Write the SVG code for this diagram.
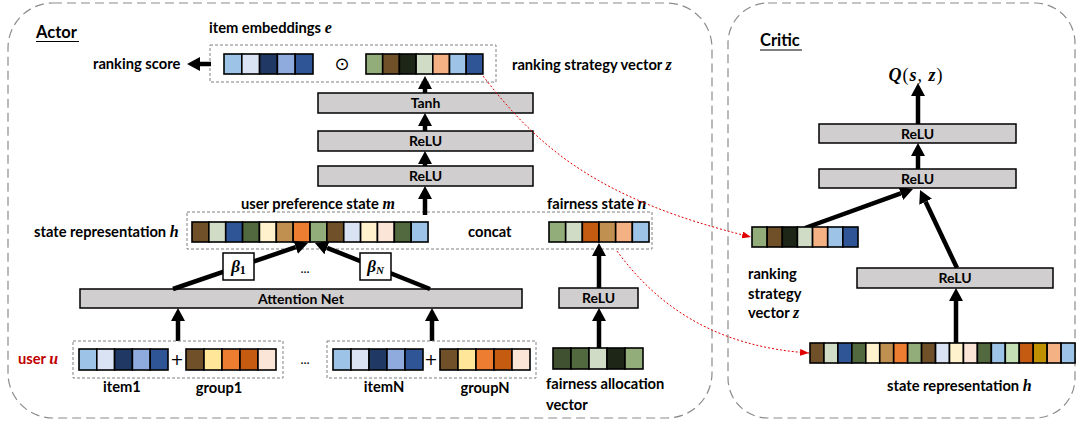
<svg xmlns="http://www.w3.org/2000/svg" width="1079" height="425" viewBox="0 0 1079 425">
<defs>
<style>
.t{font-family:Lato,"Open Sans","Liberation Sans",sans-serif;font-weight:700;font-size:14.7px;fill:#000}
.m{font-family:"Liberation Serif","DejaVu Serif",serif;font-style:italic;font-weight:700;font-size:16px}
.up{font-family:"Liberation Serif","DejaVu Serif",serif;font-style:normal;font-weight:400}
.c{text-anchor:middle}
.cell{stroke:#000;stroke-width:1.6}
.grp{fill:none;stroke:#808080;stroke-width:1;stroke-dasharray:3,2}
.layer{fill:#D0CECE;stroke:#000;stroke-width:1.5}
.lt{font-size:14px;text-anchor:middle}
.arr{stroke:#000;stroke-width:4.5;fill:none;marker-end:url(#ah)}
.red{stroke:#E00000;stroke-width:1;stroke-dasharray:2,2;fill:none;marker-end:url(#rh)}
.box{fill:none;stroke:#8C8C8C;stroke-width:1.2;stroke-dasharray:9,5}
.beta{fill:#fff;stroke:#000;stroke-width:1.5}
.plus{font-family:"DejaVu Sans",sans-serif;font-size:16px;text-anchor:middle}
.dots{font-family:Lato,sans-serif;font-size:13px;text-anchor:middle}
</style>
<marker id="ah" markerUnits="userSpaceOnUse" markerWidth="13" markerHeight="14" viewBox="0 0 13 14" refX="0" refY="7" orient="auto"><path d="M0,0 L13,7 L0,14 z" fill="#000"/></marker>
<marker id="rh" markerUnits="userSpaceOnUse" markerWidth="9" markerHeight="7" viewBox="0 0 9 7" refX="9" refY="3.5" orient="auto"><path d="M0,0 L9,3.5 L0,7 z" fill="#E00000"/></marker>
</defs>

<g id="actor-frame">
<rect class="box" x="8" y="3" width="704" height="415" rx="45" ry="45"/>
<text class="t" x="36" y="38" style="font-size:16.5px">Actor</text>
<line x1="36" y1="41.5" x2="79" y2="41.5" stroke="#000" stroke-width="1"/>
</g>
<g id="critic-frame">
<rect class="box" x="728" y="3" width="347" height="415" rx="40" ry="40"/>
<text class="t" x="760" y="46" style="font-size:16.5px">Critic</text>
<line x1="760" y1="50" x2="802" y2="50" stroke="#000" stroke-width="1"/>
</g>

<g id="embeddings">
<rect class="grp" x="210" y="45" width="286" height="37"/>
<text class="t" x="209" y="33">item embeddings <tspan class="m">e</tspan></text>
<g class="cell">
<rect x="224" y="54" width="17.8" height="20" fill="#9DC3E6"/>
<rect x="241.8" y="54" width="17.8" height="20" fill="#DAE3F3"/>
<rect x="259.6" y="54" width="17.8" height="20" fill="#1F3864"/>
<rect x="277.4" y="54" width="17.8" height="20" fill="#8FAADC"/>
<rect x="295.2" y="54" width="17.8" height="20" fill="#2F5597"/>
</g>
<text x="342" y="70" style="font-family:'DejaVu Sans',sans-serif;font-size:18px" text-anchor="middle">⊙</text>
<g class="cell">
<rect x="366" y="54" width="16.7" height="20" fill="#93AD7A"/>
<rect x="382.7" y="54" width="16.7" height="20" fill="#6F5028"/>
<rect x="399.4" y="54" width="16.7" height="20" fill="#1E2618"/>
<rect x="416.1" y="54" width="16.7" height="20" fill="#D1DCC7"/>
<rect x="432.8" y="54" width="16.7" height="20" fill="#F4B183"/>
<rect x="449.5" y="54" width="16.7" height="20" fill="#9DC3E6"/>
<rect x="466.2" y="54" width="16.7" height="20" fill="#2F5597"/>
</g>
<text class="t" x="93" y="69">ranking score</text>
<text class="t" x="512" y="70">ranking strategy vector <tspan class="m">z</tspan></text>
</g>

<g id="tanh"><rect class="layer" x="318" y="93" width="215" height="20"/><text class="t lt" x="425.5" y="108">Tanh</text></g>
<g id="relu-a1"><rect class="layer" x="318" y="131" width="215" height="20"/><text class="t lt" x="425.5" y="146">ReLU</text></g>
<g id="relu-a2"><rect class="layer" x="318" y="166" width="215" height="20"/><text class="t lt" x="425.5" y="181">ReLU</text></g>

<g id="state">
<rect class="grp" x="187" y="212" width="465" height="37"/>
<text class="t" x="241" y="209">user preference state <tspan class="m">m</tspan></text>
<text class="t" x="34" y="237">state representation <tspan class="m">h</tspan></text>
<text class="t" x="468" y="237">concat</text>
<text class="t" x="547" y="209">fairness state <tspan class="m">n</tspan></text>
<g class="cell">
<rect x="192" y="222" width="16.86" height="20" fill="#6F5028"/>
<rect x="208.86" y="222" width="16.86" height="20" fill="#D1DCC7"/>
<rect x="225.72" y="222" width="16.86" height="20" fill="#2F5597"/>
<rect x="242.58" y="222" width="16.86" height="20" fill="#52693F"/>
<rect x="259.44" y="222" width="16.86" height="20" fill="#FFF2CC"/>
<rect x="276.3" y="222" width="16.86" height="20" fill="#C09050"/>
<rect x="293.16" y="222" width="16.86" height="20" fill="#ED7D31"/>
<rect x="310.02" y="222" width="16.86" height="20" fill="#93AD7A"/>
<rect x="326.88" y="222" width="16.86" height="20" fill="#6F5028"/>
<rect x="343.74" y="222" width="16.86" height="20" fill="#DAE3F3"/>
<rect x="360.6" y="222" width="16.86" height="20" fill="#FFF2CC"/>
<rect x="377.46" y="222" width="16.86" height="20" fill="#FBE5D6"/>
<rect x="394.32" y="222" width="16.86" height="20" fill="#52693F"/>
<rect x="411.18" y="222" width="16.86" height="20" fill="#9DC3E6"/>
</g>
<g class="cell">
<rect x="549" y="222" width="16.67" height="20" fill="#93AD7A"/>
<rect x="565.67" y="222" width="16.67" height="20" fill="#D1DCC7"/>
<rect x="582.33" y="222" width="16.67" height="20" fill="#C55A11"/>
<rect x="599" y="222" width="16.67" height="20" fill="#C09050"/>
<rect x="615.67" y="222" width="16.67" height="20" fill="#F4B183"/>
<rect x="632.33" y="222" width="16.67" height="20" fill="#9DC3E6"/>
</g>
</g>

<g id="attention"><rect class="layer" x="80" y="289" width="442" height="19"/><text class="t lt" x="301" y="303.5">Attention Net</text></g>
<g id="relu-fair"><rect class="layer" x="559" y="288" width="79" height="20"/><text class="t lt" x="598.5" y="303">ReLU</text></g>

<g id="connectors">
<line class="arr" x1="211" y1="64" x2="200" y2="64"/>
<line class="arr" x1="425" y1="93" x2="425" y2="89"/>
<line class="arr" x1="425" y1="131" x2="425" y2="126"/>
<line class="arr" x1="425" y1="166" x2="425" y2="164"/>
<line class="arr" x1="425" y1="215" x2="425" y2="199"/>
<line class="arr" x1="173" y1="289" x2="295.7" y2="247.2"/>
<line class="arr" x1="430" y1="289" x2="327" y2="247.8"/>
<line class="arr" x1="178" y1="341" x2="178" y2="321"/>
<line class="arr" x1="432" y1="341" x2="432" y2="321"/>
<line class="arr" x1="599" y1="348" x2="599" y2="321"/>
<line class="arr" x1="599" y1="288" x2="599" y2="256"/>
<line class="arr" x1="918" y1="124" x2="918" y2="96"/>
<line class="arr" x1="918" y1="169" x2="918" y2="156"/>
<line class="arr" x1="805" y1="228" x2="900.8" y2="193.4"/>
<line class="arr" x1="957" y1="268" x2="925.6" y2="201.8"/>
<line class="arr" x1="956" y1="343" x2="956" y2="301"/>
<path class="red" d="M483,76 C540,150 600,200 751,237"/>
<path class="red" d="M617,251 C660,310 720,347 809,353"/>
</g>

<g id="beta1"><rect class="beta" x="223" y="253" width="31" height="27"/><text class="m c" x="238.5" y="272" style="font-size:17px">β<tspan style="font-style:normal;font-size:12px" dy="2">1</tspan></text></g>
<g id="betaN"><rect class="beta" x="360" y="253" width="31" height="27"/><text class="m c" x="375.5" y="272" style="font-size:17px">β<tspan style="font-size:11px" dy="2">N</tspan></text></g>
<text class="dots" x="305" y="273">...</text>

<g id="input1">
<rect class="grp" x="73" y="341" width="210" height="37"/>
<g class="cell">
<rect x="79" y="349" width="17.8" height="21" fill="#9DC3E6"/>
<rect x="96.8" y="349" width="17.8" height="21" fill="#DAE3F3"/>
<rect x="114.6" y="349" width="17.8" height="21" fill="#1F3864"/>
<rect x="132.4" y="349" width="17.8" height="21" fill="#8FAADC"/>
<rect x="150.2" y="349" width="17.8" height="21" fill="#2F5597"/>
<rect x="186" y="349" width="18" height="21" fill="#6F5028"/>
<rect x="204" y="349" width="18" height="21" fill="#FFE699"/>
<rect x="222" y="349" width="18" height="21" fill="#ED7D31"/>
<rect x="240" y="349" width="18" height="21" fill="#C55A11"/>
<rect x="258" y="349" width="18" height="21" fill="#FBE5D6"/>
</g>
<text class="plus" x="177" y="365">+</text>
<text class="t c" x="122" y="392">item1</text>
<text class="t c" x="219" y="393">group1</text>
</g>
<g id="user"><text class="t" x="18" y="364" style="fill:#C00000">user <tspan class="m" style="fill:#C00000">u</tspan></text></g>
<text class="dots" x="305" y="364">...</text>

<g id="inputN">
<rect class="grp" x="327" y="341" width="209" height="37"/>
<g class="cell">
<rect x="333" y="349" width="18" height="21" fill="#9DC3E6"/>
<rect x="351" y="349" width="18" height="21" fill="#DAE3F3"/>
<rect x="369" y="349" width="18" height="21" fill="#1F3864"/>
<rect x="387" y="349" width="18" height="21" fill="#8FAADC"/>
<rect x="405" y="349" width="18" height="21" fill="#2F5597"/>
<rect x="440" y="349" width="18" height="21" fill="#6F5028"/>
<rect x="458" y="349" width="18" height="21" fill="#FFE699"/>
<rect x="476" y="349" width="18" height="21" fill="#ED7D31"/>
<rect x="494" y="349" width="18" height="21" fill="#C55A11"/>
<rect x="512" y="349" width="18" height="21" fill="#FBE5D6"/>
</g>
<text class="plus" x="431" y="365">+</text>
<text class="t c" x="384" y="392">itemN</text>
<text class="t c" x="485" y="393">groupN</text>
</g>

<g id="fair-alloc">
<g class="cell">
<rect x="553" y="348" width="18" height="21" fill="#3F5131"/>
<rect x="571" y="348" width="18" height="21" fill="#52693F"/>
<rect x="589" y="348" width="18" height="21" fill="#D1DCC7"/>
<rect x="607" y="348" width="18" height="21" fill="#1E2618"/>
<rect x="625" y="348" width="18" height="21" fill="#93AD7A"/>
</g>
<text class="t" x="546" y="389">fairness allocation</text>
<text class="t" x="546" y="410">vector</text>
</g>

<g id="q"><text class="m c" x="916" y="81" style="font-size:18px;letter-spacing:1px">Q<tspan class="up">(</tspan>s<tspan class="up">, </tspan>z<tspan class="up">)</tspan></text></g>
<g id="relu-c1"><rect class="layer" x="819" y="124" width="197" height="19"/><text class="t lt" x="917.5" y="138.5">ReLU</text></g>
<g id="relu-c2"><rect class="layer" x="819" y="169" width="197" height="19"/><text class="t lt" x="917.5" y="183.5">ReLU</text></g>
<g id="relu-c3"><rect class="layer" x="857" y="268" width="196" height="20"/><text class="t lt" x="955" y="283">ReLU</text></g>

<g id="critic-z">
<g class="cell">
<rect x="752" y="227" width="15.14" height="20" fill="#93AD7A"/>
<rect x="767.14" y="227" width="15.14" height="20" fill="#6F5028"/>
<rect x="782.29" y="227" width="15.14" height="20" fill="#1E2618"/>
<rect x="797.43" y="227" width="15.14" height="20" fill="#D1DCC7"/>
<rect x="812.57" y="227" width="15.14" height="20" fill="#F4B183"/>
<rect x="827.71" y="227" width="15.14" height="20" fill="#9DC3E6"/>
<rect x="842.86" y="227" width="15.14" height="20" fill="#2F5597"/>
</g>
<text class="t" x="748" y="279">ranking</text>
<text class="t" x="748" y="299">strategy</text>
<text class="t" x="748" y="318">vector <tspan class="m">z</tspan></text>
</g>

<g id="critic-h">
<g class="cell">
<rect x="810" y="343" width="13.95" height="20" fill="#6F5028"/>
<rect x="823.95" y="343" width="13.95" height="20" fill="#D1DCC7"/>
<rect x="837.9" y="343" width="13.95" height="20" fill="#2F5597"/>
<rect x="851.85" y="343" width="13.95" height="20" fill="#52693F"/>
<rect x="865.8" y="343" width="13.95" height="20" fill="#FFF2CC"/>
<rect x="879.75" y="343" width="13.95" height="20" fill="#C09050"/>
<rect x="893.7" y="343" width="13.95" height="20" fill="#ED7D31"/>
<rect x="907.65" y="343" width="13.95" height="20" fill="#93AD7A"/>
<rect x="921.6" y="343" width="13.95" height="20" fill="#6F5028"/>
<rect x="935.55" y="343" width="13.95" height="20" fill="#DAE3F3"/>
<rect x="949.5" y="343" width="13.95" height="20" fill="#FFF2CC"/>
<rect x="963.45" y="343" width="13.95" height="20" fill="#FBE5D6"/>
<rect x="977.4" y="343" width="13.95" height="20" fill="#52693F"/>
<rect x="991.35" y="343" width="13.95" height="20" fill="#9DC3E6"/>
<rect x="1005.3" y="343" width="13.95" height="20" fill="#C5E0B4"/>
<rect x="1019.25" y="343" width="13.95" height="20" fill="#C55A11"/>
<rect x="1033.2" y="343" width="13.95" height="20" fill="#BF9000"/>
<rect x="1047.15" y="343" width="13.95" height="20" fill="#F4B183"/>
<rect x="1061.1" y="343" width="13.95" height="20" fill="#9DC3E6"/>
</g>
<text class="t" x="887" y="391">state representation <tspan class="m">h</tspan></text>
</g>
</svg>
